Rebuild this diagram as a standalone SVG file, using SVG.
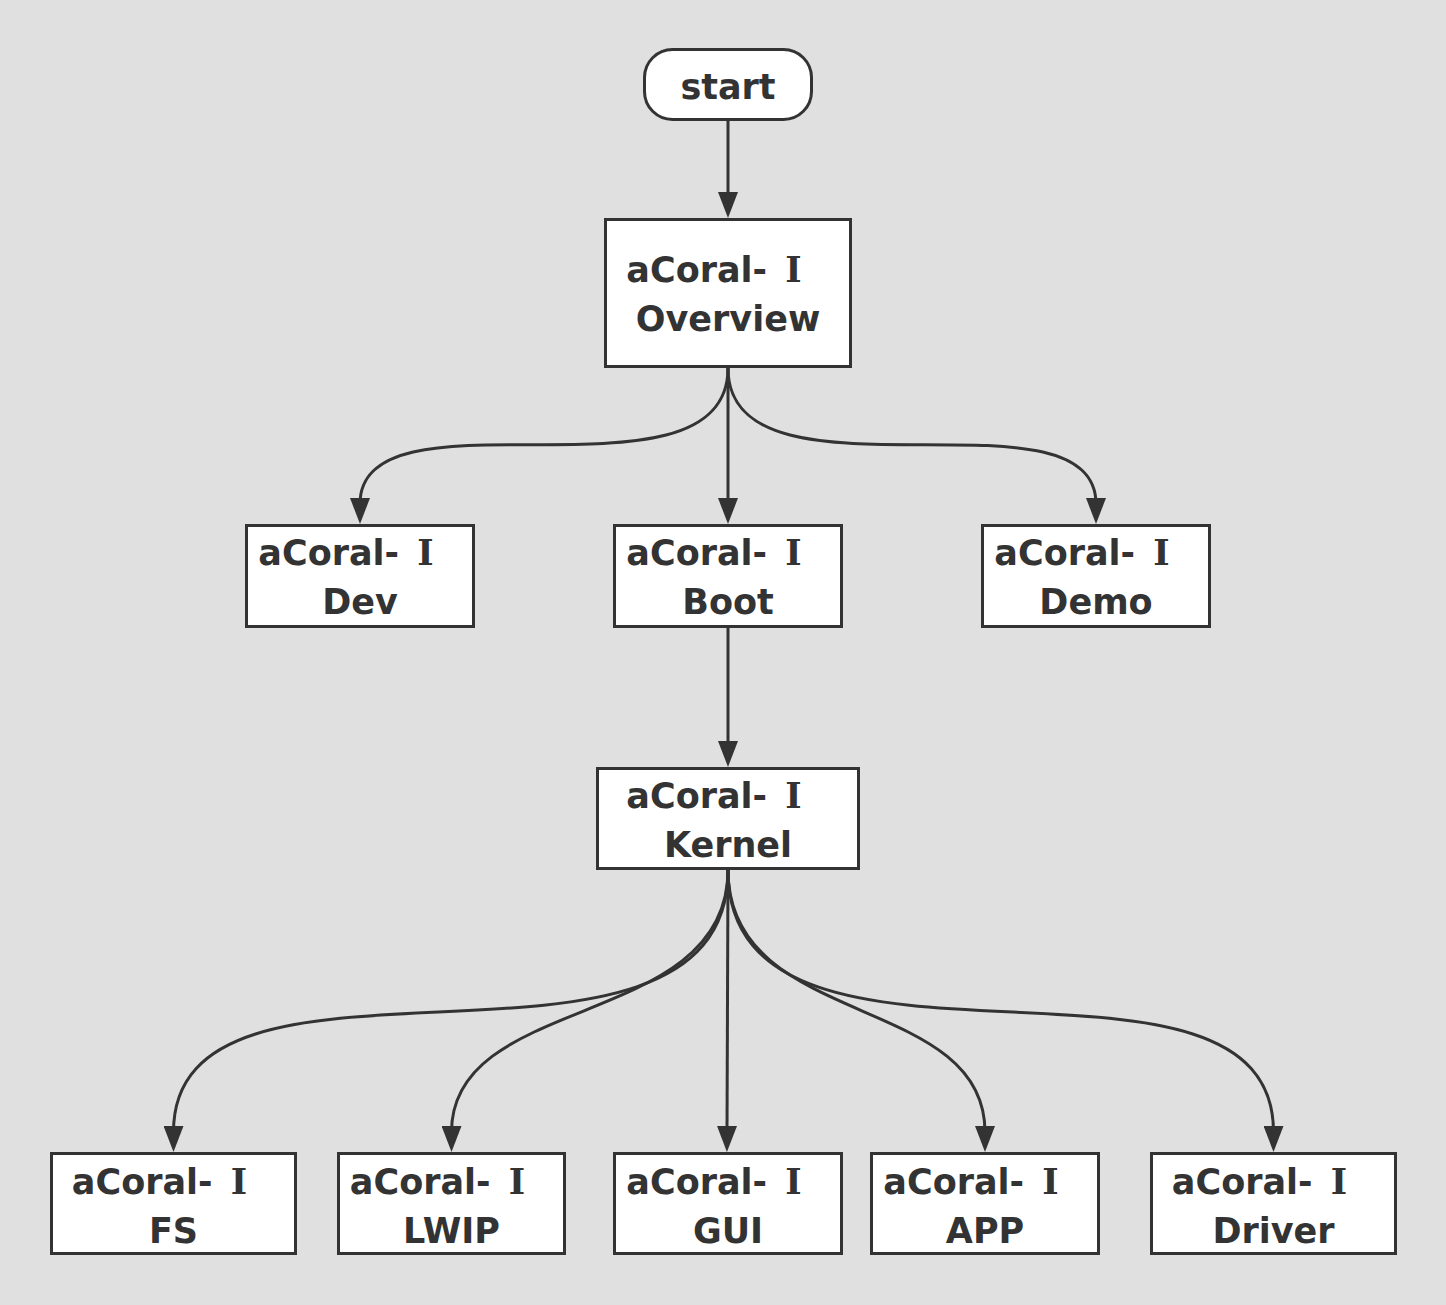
<svg xmlns="http://www.w3.org/2000/svg" width="1446" height="1305" viewBox="0 0 1446 1305">
<defs>
<style>
.box{fill:#ffffff;stroke:#333333;stroke-width:3}
.t{font-family:"DejaVu Sans","Noto Sans CJK SC",sans-serif;font-weight:bold;font-size:35px;fill:#333333;text-anchor:middle}
.r{font-family:"DejaVu Serif","Liberation Serif",serif}
.c{fill:none;stroke:#333333;stroke-width:3;marker-end:url(#arr)}
</style>
<marker id="arr" markerUnits="userSpaceOnUse" markerWidth="26" markerHeight="20" refX="6" refY="10" orient="auto" viewBox="0 0 26 20">
<path d="M0,0 L26,10 L0,20 z" fill="#333333"/>
</marker>
</defs>
<rect width="1446" height="1305" fill="#e0e0e0"/>
<g id="connectors">
<path class="c" d="M728,121 L728,198"/>
<path class="c" d="M728,368 C728,515 360,380 360,504"/>
<path class="c" d="M728,368 L728,504"/>
<path class="c" d="M728,368 C728,515 1096,380 1096,504"/>
<path class="c" d="M728,628 L728,747"/>
<path class="c" d="M728,870 C728,1120 173.5,910 173.5,1132"/>
<path class="c" d="M728,870 C728,1030 451.5,992 451.5,1132"/>
<path class="c" d="M728,870 L727,1132"/>
<path class="c" d="M728,870 C728,1030 985,992 985,1132"/>
<path class="c" d="M728,870 C728,1120 1273.5,910 1273.5,1132"/>
</g>
<g id="start">
<rect class="box" x="644.5" y="49.5" width="167" height="70" rx="28"/>
<text class="t" x="728" y="99">start</text>
</g>
<g id="overview">
<rect class="box" x="605.5" y="219.5" width="245" height="147"/>
<text class="t" x="714" y="282">aCoral- <tspan class="r" dx="6">I</tspan></text>
<text class="t" x="728" y="331">Overview</text>
</g>
<g id="dev">
<rect class="box" x="246.5" y="525.5" width="227" height="101"/>
<text class="t" x="346" y="565">aCoral- <tspan class="r" dx="6">I</tspan></text>
<text class="t" x="360" y="614">Dev</text>
</g>
<g id="boot">
<rect class="box" x="614.5" y="525.5" width="227" height="101"/>
<text class="t" x="714" y="565">aCoral- <tspan class="r" dx="6">I</tspan></text>
<text class="t" x="728" y="614">Boot</text>
</g>
<g id="demo">
<rect class="box" x="982.5" y="525.5" width="227" height="101"/>
<text class="t" x="1082" y="565">aCoral- <tspan class="r" dx="6">I</tspan></text>
<text class="t" x="1096" y="614">Demo</text>
</g>
<g id="kernel">
<rect class="box" x="597.5" y="768.5" width="261" height="100"/>
<text class="t" x="714" y="808">aCoral- <tspan class="r" dx="6">I</tspan></text>
<text class="t" x="728" y="857">Kernel</text>
</g>
<g id="fs">
<rect class="box" x="51.5" y="1153.5" width="244" height="100"/>
<text class="t" x="159.5" y="1194">aCoral- <tspan class="r" dx="6">I</tspan></text>
<text class="t" x="173.5" y="1243">FS</text>
</g>
<g id="lwip">
<rect class="box" x="338.5" y="1153.5" width="226" height="100"/>
<text class="t" x="437.5" y="1194">aCoral- <tspan class="r" dx="6">I</tspan></text>
<text class="t" x="451.5" y="1243">LWIP</text>
</g>
<g id="gui">
<rect class="box" x="614.5" y="1153.5" width="227" height="100"/>
<text class="t" x="714" y="1194">aCoral- <tspan class="r" dx="6">I</tspan></text>
<text class="t" x="728" y="1243">GUI</text>
</g>
<g id="app">
<rect class="box" x="871.5" y="1153.5" width="227" height="100"/>
<text class="t" x="971" y="1194">aCoral- <tspan class="r" dx="6">I</tspan></text>
<text class="t" x="985" y="1243">APP</text>
</g>
<g id="driver">
<rect class="box" x="1151.5" y="1153.5" width="244" height="100"/>
<text class="t" x="1259.5" y="1194">aCoral- <tspan class="r" dx="6">I</tspan></text>
<text class="t" x="1273.5" y="1243">Driver</text>
</g>
</svg>
